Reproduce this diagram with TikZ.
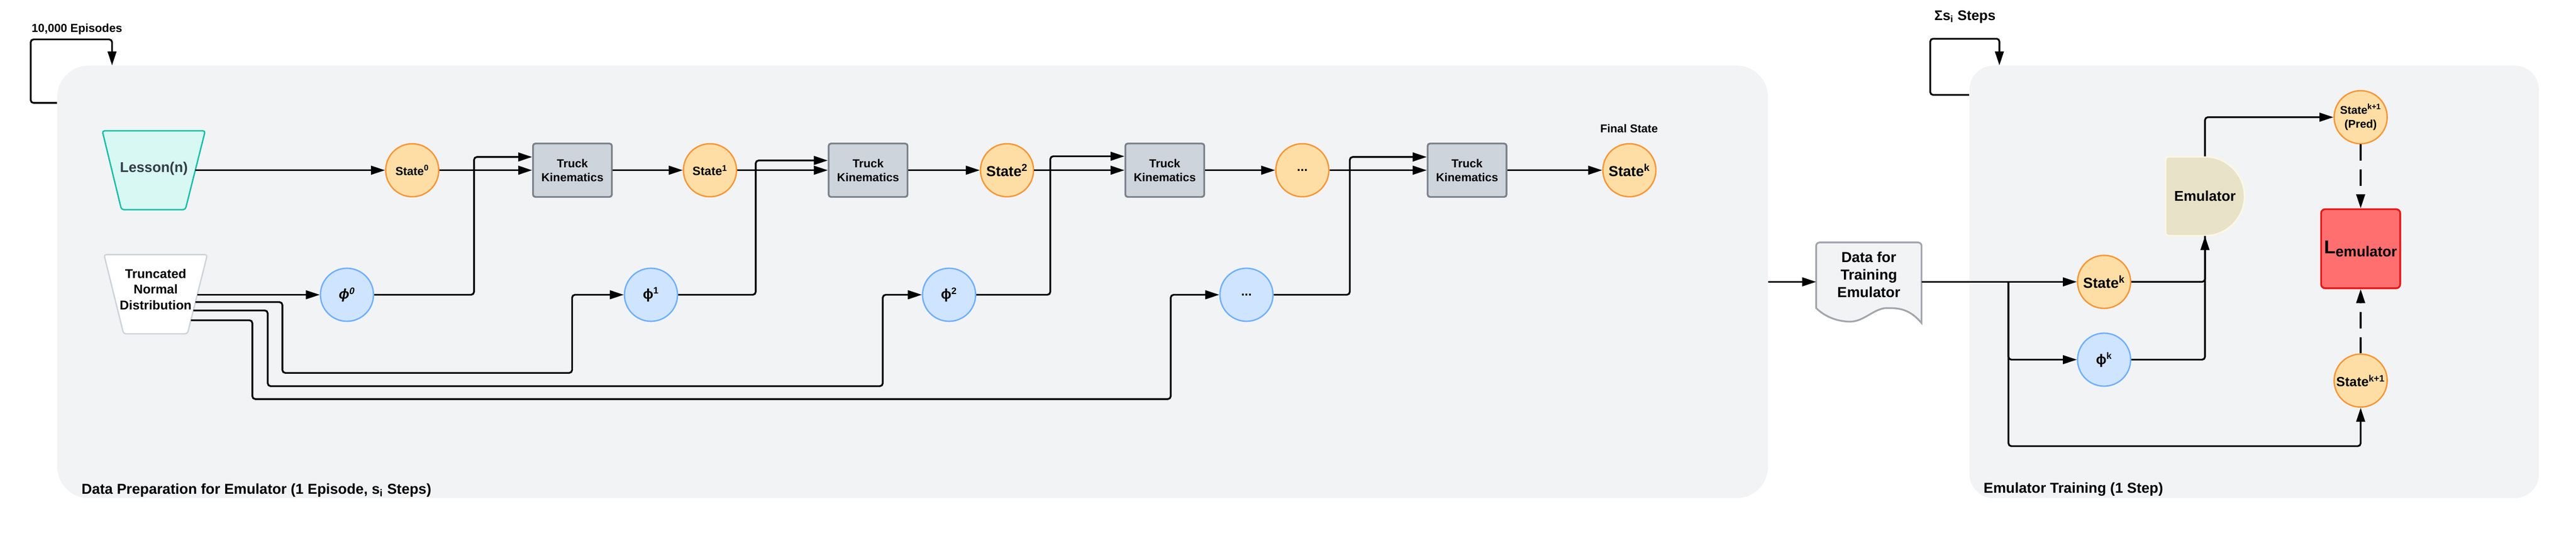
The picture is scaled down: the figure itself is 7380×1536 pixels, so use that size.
\documentclass[tikz,border=0pt]{standalone}
\usepackage{fontspec}
\setmainfont{Liberation Sans}
\usetikzlibrary{arrows.meta}

\definecolor{panelbg}{RGB}{242,243,245}
\definecolor{statefill}{RGB}{255,222,166}
\definecolor{stateline}{RGB}{247,150,54}
\definecolor{phifill}{RGB}{207,228,255}
\definecolor{philine}{RGB}{110,176,255}
\definecolor{tkfill}{RGB}{206,212,219}
\definecolor{tkline}{RGB}{123,129,138}
\definecolor{lessonfill}{RGB}{216,248,243}
\definecolor{lessonline}{RGB}{21,191,166}
\definecolor{lessontext}{RGB}{51,60,70}
\definecolor{tndline}{RGB}{207,212,219}
\definecolor{docline}{RGB}{162,166,172}
\definecolor{emufill}{RGB}{232,226,201}
\definecolor{emuline}{RGB}{251,247,229}
\definecolor{lossfill}{RGB}{255,111,111}
\definecolor{lossline}{RGB}{232,23,23}

\begin{document}
\begin{tikzpicture}[x=0.3pt,y=0.3pt,yscale=-1,
  every node/.style={font=\bfseries},
  panel/.style={fill=panelbg, inner sep=0pt, minimum height=372pt},
  statenode/.style={circle, draw=stateline, fill=statefill, line width=1.2pt, minimum size=45.6pt, inner sep=0pt, align=center},
  phinode/.style={circle, draw=philine, fill=phifill, line width=1.2pt, minimum size=45.6pt, inner sep=0pt, font=\bfseries\fontsize{12}{14}\selectfont},
  tkbox/.style={draw=tkline, fill=tkfill, line width=1.5pt, rounded corners=2pt, minimum width=67.8pt, minimum height=45.9pt, inner sep=0pt, align=center, font=\bfseries\fontsize{10}{12}\selectfont},
  source/.style={line width=1.2pt, rounded corners=2pt},
  conn/.style={line width=1.5pt, rounded corners=2.5pt, -{Triangle[length=12pt,width=7.5pt]}},
  link/.style={line width=1.5pt, rounded corners=2.5pt},
  lossdash/.style={dash pattern=on 14pt off 7.5pt},
  caption/.style={inner sep=0pt, anchor=west, font=\bfseries\fontsize{12.4}{14}\selectfont}
]
\useasboundingbox (0,0) rectangle (7380,1536);

% panels
\node[panel, rounded corners=27pt, minimum width=1470.3pt] (prep) at (2614.5,808) {};
\node[panel, rounded corners=21pt, minimum width=489.6pt] (train) at (6458,808) {};

% loops
\draw[conn, rounded corners=2.4pt] (prep.west |- 0,295) -- (88,295) -- (88,113) -- (321,113) -- (prep.north -| 321,0);
\draw[conn, rounded corners=2.4pt] (train.west |- 0,272) -- (5530,272) -- (5530,111) -- (5728,111) -- (train.north -| 5728,0);
\node[caption, font=\bfseries\fontsize{10}{12}\selectfont] (episodes) at (90,83) {10,000 Episodes};
\node[caption, font=\bfseries\fontsize{12}{14}\selectfont] (sumsteps) at (5541,49) {Σs\textsubscript{i} Steps};

% sources
\draw[source, draw=lessonline, fill=lessonfill] (293,375) -- (588,375) -- (531,601) -- (348,601) -- cycle;
\node[inner sep=0pt, text=lessontext, font=\bfseries\fontsize{12.2}{14}\selectfont] (lesson) at (441,483) {Lesson(n)};
\coordinate (lessonout) at (559.5,488);
\draw[source, draw=tndline, fill=white] (298,730) -- (594,730) -- (537,957) -- (354,957) -- cycle;
\node[inner sep=0pt, align=center, font=\bfseries\fontsize{11}{13.5}\selectfont] (tnd) at (446,829) {Truncated\\Normal\\Distribution};
\coordinate (tndout0) at (565,845);
\coordinate (tndout1) at (560,866);
\coordinate (tndout2) at (554,890);
\coordinate (tndout3) at (547,918);

% state chain
\node[statenode, font=\bfseries\fontsize{10}{12}\selectfont] (s0) at (1181,488) {State\textsuperscript{0}};
\node[tkbox] (tk1) at (1640,488) {Truck\\Kinematics};
\node[statenode, font=\bfseries\fontsize{10.4}{12}\selectfont] (s1) at (2034,488) {State\textsuperscript{1}};
\node[tkbox] (tk2) at (2487,488) {Truck\\Kinematics};
\node[statenode, font=\bfseries\fontsize{12.4}{14}\selectfont] (s2) at (2885,488) {State\textsuperscript{2}};
\node[tkbox] (tk3) at (3337,488) {Truck\\Kinematics};
\node[statenode, font=\bfseries\fontsize{11}{12}\selectfont] (sdots) at (3731,488) {...};
\node[tkbox] (tk4) at (4203,488) {Truck\\Kinematics};
\node[statenode, font=\bfseries\fontsize{12.4}{14}\selectfont] (sk) at (4668,488) {State\textsuperscript{k}};
\node[inner sep=0pt, font=\bfseries\fontsize{9.8}{12}\selectfont] (final) at (4667,369) {Final State};

% samples
\node[phinode] (phi0) at (994,845) {\textit{ϕ}\textsuperscript{\textit{0}}};
\node[phinode] (phi1) at (1865,845) {ϕ\textsuperscript{1}};
\node[phinode] (phi2) at (2719,845) {ϕ\textsuperscript{2}};
\node[phinode, font=\bfseries\fontsize{11}{12}\selectfont] (phidots) at (3571,845) {...};

\draw[conn] (lessonout) -- (s0);
\draw[conn] (s0) -- (tk1);
\draw[conn] (tk1) -- (s1);
\draw[conn] (s1) -- (tk2);
\draw[conn] (tk2) -- (s2);
\draw[conn] (s2) -- (tk3);
\draw[conn] (tk3) -- (sdots);
\draw[conn] (sdots) -- (tk4);
\draw[conn] (tk4) -- (sk);

\draw[conn] (tndout0) -- (phi0);
\draw[conn] (tndout1) -| (809,1069) -| (1639,845) -- (phi1);
\draw[conn] (tndout2) -| (767,1107) -| (2529,845) -- (phi2);
\draw[conn] (tndout3) -| (723,1144) -| (3354,845) -- (phidots);

\draw[conn] (phi0) -- (1358,845) |- ([yshift=-11.4pt]tk1.west);
\draw[conn] (phi1) -- (2165,845) |- ([yshift=-8.4pt]tk2.west);
\draw[conn] (phi2) -- (3009,845) |- ([yshift=-12pt]tk3.west);
\draw[conn] (phidots) -- (3867,845) |- ([yshift=-11.4pt]tk4.west);

\node[caption] (preplabel) at (233,1405) {Data Preparation for Emulator (1 Episode, s\textsubscript{i} Steps)};

% data document
\draw[line width=1.5pt, draw=docline, fill=panelbg, rounded corners=3pt] (5203,883) -- (5203,695) -- (5505,695) [sharp corners] -- (5505,926)
  .. controls (5470,885) and (5440,883) .. (5406,883) .. controls (5370,883) and (5340,922) .. (5301,922)
  .. controls (5260,922) and (5225,905) .. (5203,883) -- cycle;
\node[inner sep=0pt, align=center, font=\bfseries\fontsize{12.5}{15}\selectfont] (doc) at (5354,787) {Data for\\Training\\Emulator};
\coordinate (docin) at (5203,808);
\coordinate (docout) at (5505,808);
\coordinate (split) at (5754,808);
\coordinate (splitend) at (5754,1279);
\draw[conn] (prep.east |- docin) -- (docin);

% emulator training
\draw[line width=1.5pt, draw=emuline, fill=emufill, rounded corners=3pt] (6317,449) -- (6204,449) -- (6204,676) [sharp corners] -- (6317,676)
  arc[start angle=90, end angle=-90, radius=113.5] -- cycle;
\node[inner sep=0pt, minimum width=68.1pt, minimum height=68.1pt, font=\bfseries\fontsize{12.2}{14}\selectfont] (emu) at (6317,562.5) {Emulator};
\node[statenode, font=\bfseries\fontsize{12.5}{14}\selectfont] (statek) at (6028,808) {State\textsuperscript{k}};
\node[phinode] (phik) at (6028,1031) {ϕ\textsuperscript{k}};
\node[statenode, font=\bfseries\fontsize{9.6}{12.3}\selectfont] (pred) at (6763,336) {State\textsuperscript{k+1}\\(Pred)};
\node[draw=lossline, fill=lossfill, line width=1.5pt, rounded corners=3.5pt, minimum width=68pt, minimum height=68pt, inner sep=0pt] (loss) at (6763,713)
  {\fontsize{16}{16}\selectfont L\raisebox{-2.7pt}{\fontsize{12.5}{12.5}\selectfont emulator}};
\node[statenode, font=\bfseries\fontsize{11.4}{14}\selectfont] (sk1) at (6763,1091) {State\textsuperscript{k+1}};

\draw[conn] (docout) -- (statek);
\draw[conn] (split) |- (phik);
\draw[conn] (split) -- (splitend) -| (sk1);
\draw[conn] (statek) -| (emu);
\draw[link] (phik) -| (emu.south);
\draw[conn] (emu) |- (pred);
\draw[conn, lossdash] (pred) -- (loss);
\draw[conn, lossdash] (sk1) -- (loss);

\node[caption] (trainlabel) at (5682,1403) {Emulator Training (1 Step)};
\end{tikzpicture}
\end{document}
